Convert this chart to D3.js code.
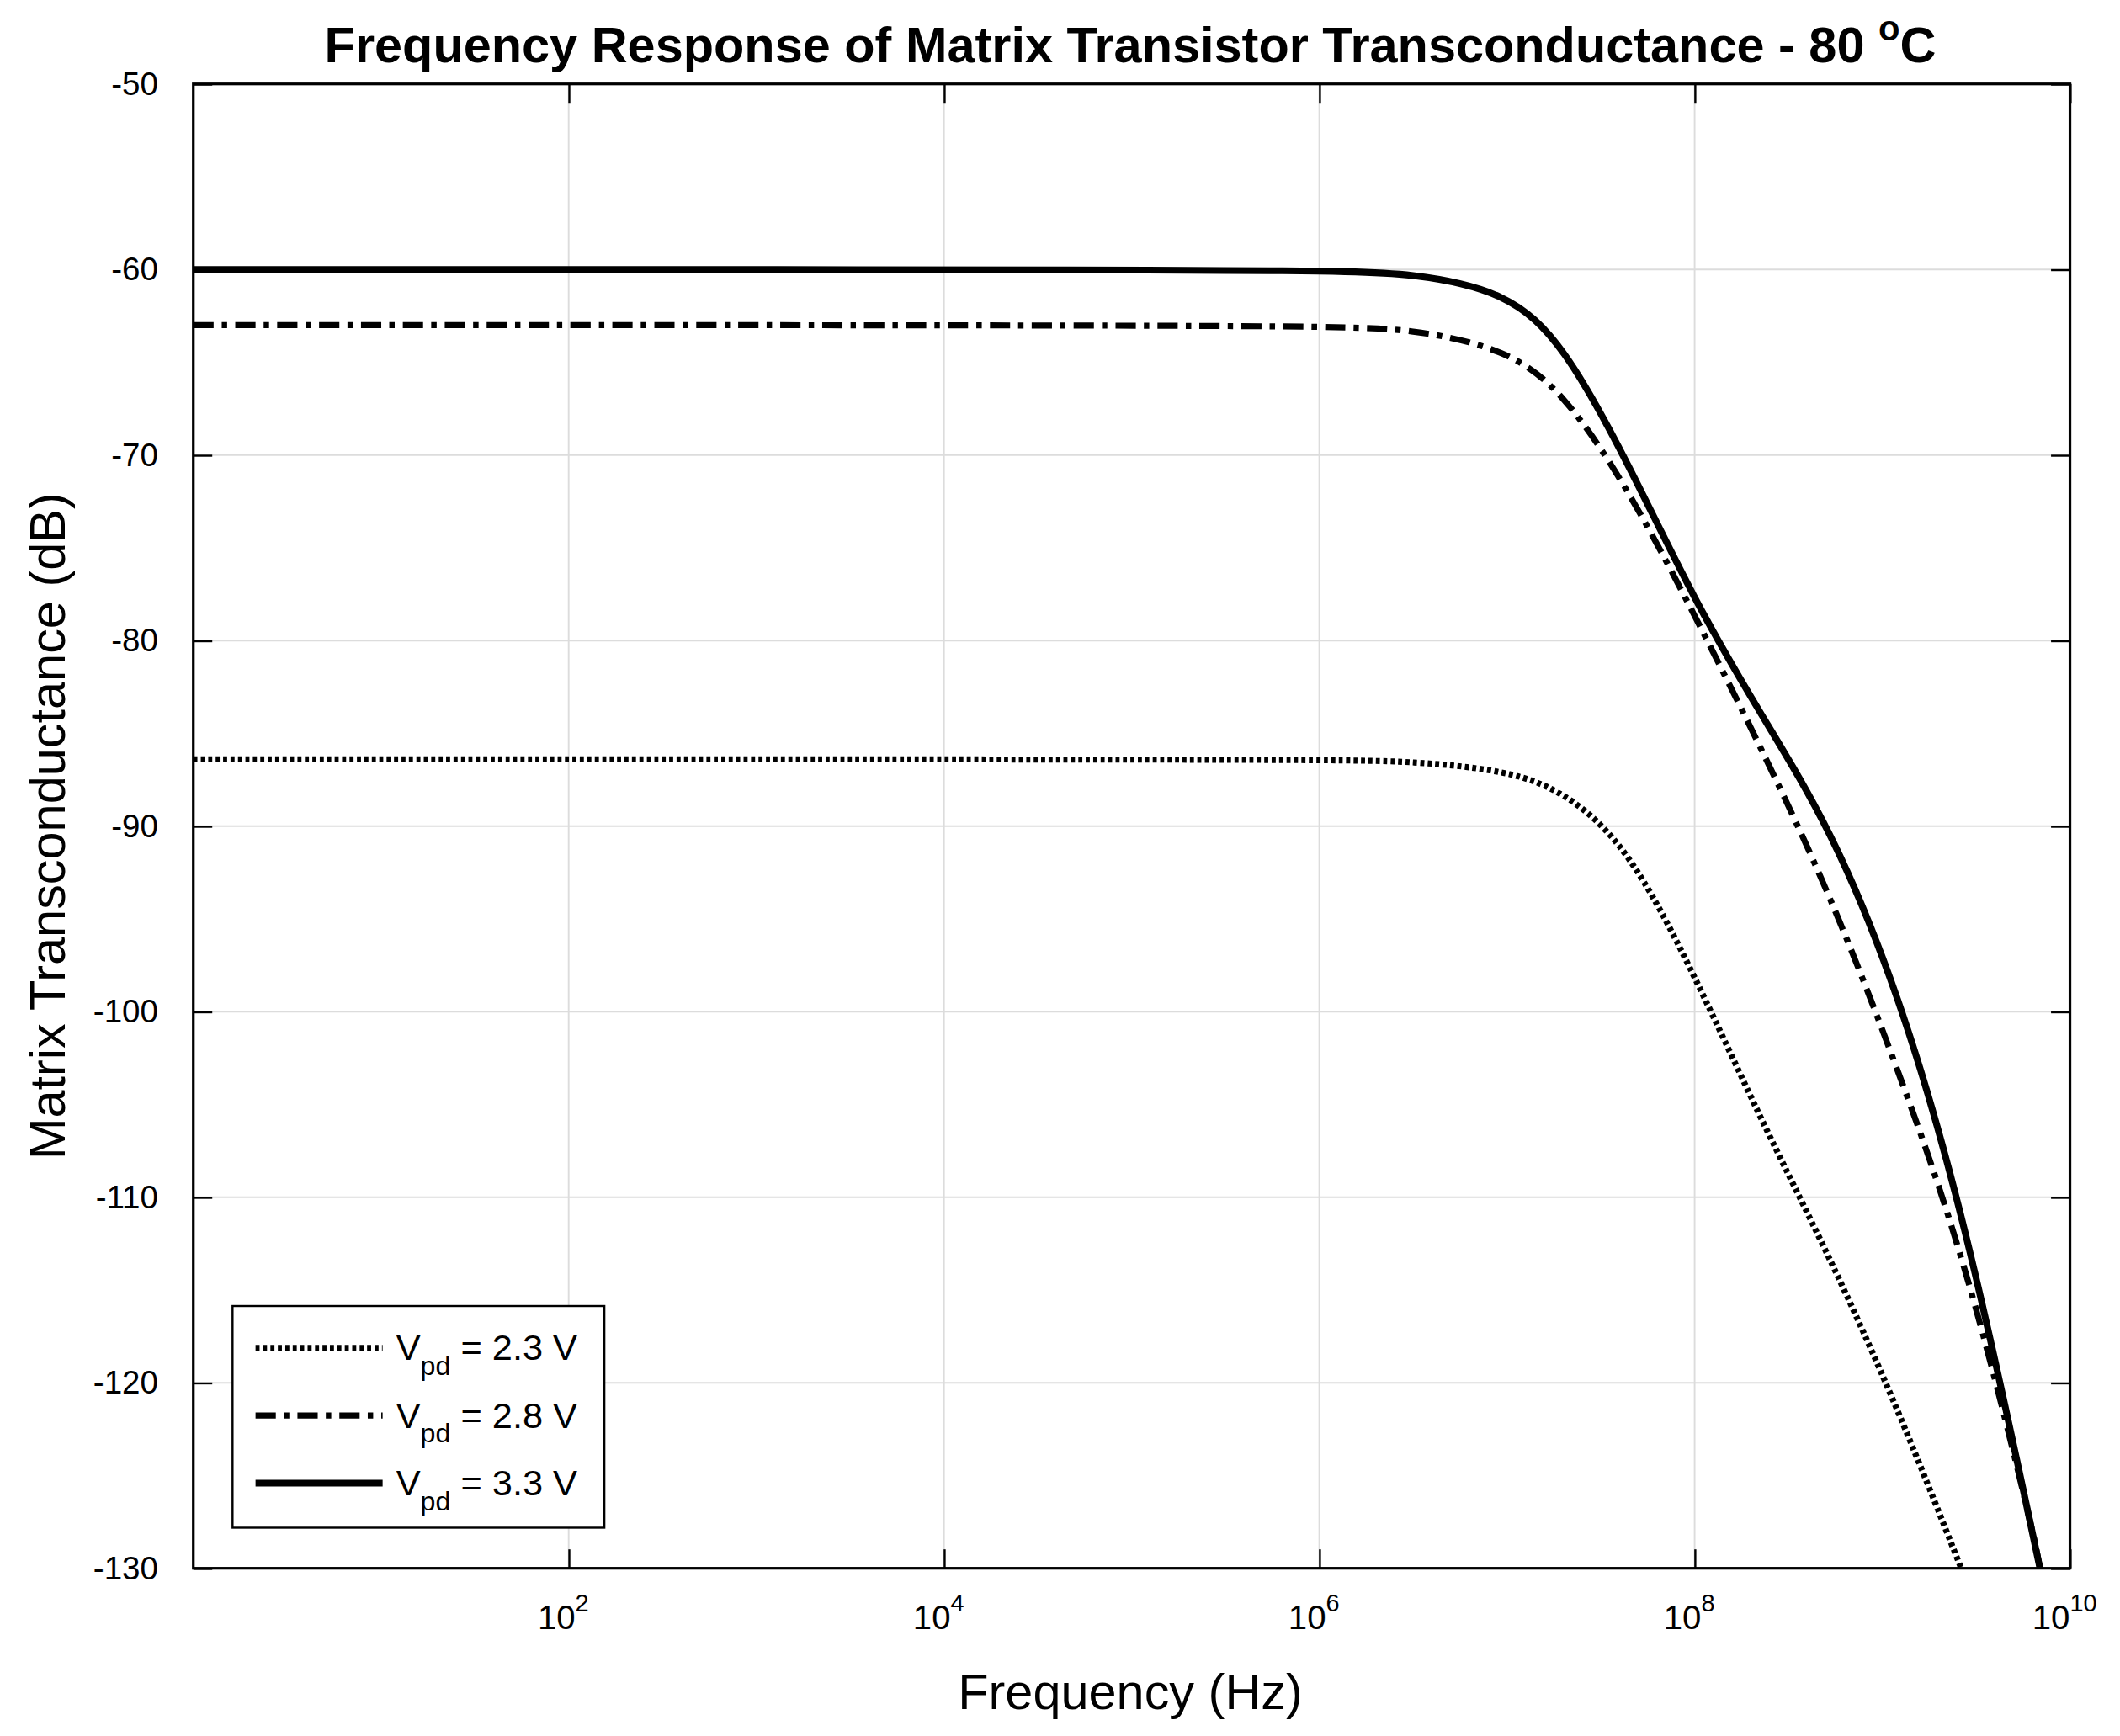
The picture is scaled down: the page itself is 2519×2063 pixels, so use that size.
<!DOCTYPE html>
<html><head><meta charset="utf-8">
<script src="https://cdn.jsdelivr.net/npm/d3@7"></script>
<style>body{margin:0;background:#fff}svg{font-family:"Liberation Sans",Arial,sans-serif}</style>
</head><body><svg id="c" width="2519" height="2063" viewBox="0 0 1568 1284"></svg>
<script>
// log10(frequency) sample points
const logF23 = [0, 6, 6.5, 7.0, 7.3, 7.64, 8.0, 8.36, 8.72, 9.08, 9.42];
const vpd23  = [-86.4, -86.4, -86.5, -87, -88.1, -91, -98, -106, -113.2, -121.3, -130];
const logF28 = [0, 6, 6.5, 7.0, 7.3, 7.64, 8.0, 8.36, 8.72, 9.08, 9.44, 9.8, 9.84];
const vpd28  = [-63, -63, -63.2, -64.3, -66.6, -71.7, -78.6, -85.9, -93.6, -103, -113.2, -127.8, -130];
const logF33 = [0, 6, 6.5, 7.0, 7.3, 7.64, 8.0, 8.36, 8.72, 9.08, 9.44, 9.84];
const vpd33  = [-60, -60, -60.2, -61.2, -64, -70.3, -77.9, -84.1, -90, -98.7, -111, -130];
const series = [
  {label: "2.3 V", x: logF23, y: vpd23, dash: "3,2.5", w: 4.5},
  {label: "2.8 V", x: logF28, y: vpd28, dash: "15,6,4,6", w: 4.5},
  {label: "3.3 V", x: logF33, y: vpd33, dash: null, w: 5}
];
const yTicks = d3.range(-130, -49, 10);
const xTicks = [1e2, 1e4, 1e6, 1e8, 1e10];

const m = {l: 143, r: 1531, t: 62, b: 1160};
const svg = d3.select("#c");
const x = d3.scaleLog().domain([1, 1e10]).range([m.l, m.r]);
const y = d3.scaleLinear().domain([-130, -50]).range([m.b, m.t]);

// grid
svg.append("g").selectAll("line").data(xTicks).join("line")
  .attr("x1", d => x(d)).attr("x2", d => x(d)).attr("y1", m.t).attr("y2", m.b)
  .attr("stroke", "#dcdcdc").attr("stroke-width", 1.2);
svg.append("g").selectAll("line").data(yTicks).join("line")
  .attr("x1", m.l).attr("x2", m.r).attr("y1", d => y(d)).attr("y2", d => y(d))
  .attr("stroke", "#dcdcdc").attr("stroke-width", 1.2);

// curves
const line = d3.line().curve(d3.curveBasis);
svg.append("clipPath").attr("id", "cp").append("rect")
  .attr("x", m.l).attr("y", m.t).attr("width", m.r - m.l).attr("height", m.b - m.t);
series.forEach(s => {
  const pts = s.x.map((lf, i) => [x(Math.pow(10, lf)), y(s.y[i])]);
  svg.append("path").attr("d", line(pts)).attr("fill", "none").attr("stroke", "#000")
    .attr("stroke-width", s.w).attr("stroke-dasharray", s.dash).attr("clip-path", "url(#cp)");
});

// axes
const gx = svg.append("g").attr("transform", `translate(0,${m.b})`)
  .call(d3.axisBottom(x).tickValues(xTicks).tickFormat("").tickSizeInner(-14).tickSizeOuter(0));
const gx2 = svg.append("g").attr("transform", `translate(0,${m.t})`)
  .call(d3.axisTop(x).tickValues(xTicks).tickFormat("").tickSizeInner(-14).tickSizeOuter(0));
const gy = svg.append("g").attr("transform", `translate(${m.l},0)`)
  .call(d3.axisLeft(y).tickValues(yTicks).tickSizeInner(-14).tickSizeOuter(0).tickPadding(26));
const gy2 = svg.append("g").attr("transform", `translate(${m.r},0)`)
  .call(d3.axisRight(y).tickValues(yTicks).tickFormat("").tickSizeInner(-14).tickSizeOuter(0));
[gx, gx2, gy, gy2].forEach(g => { g.selectAll("line").attr("stroke-width", 1.5); g.select(".domain").remove(); });
gy.selectAll("text").attr("font-size", 24).attr("font-family", "Liberation Sans, Arial")
  .text(d => d3.format("d")(d).replace("−", "-"));
svg.append("rect").attr("x", m.l).attr("y", m.t).attr("width", m.r - m.l).attr("height", m.b - m.t)
  .attr("fill", "none").attr("stroke", "#000").attr("stroke-width", 2);

// x tick labels 10^n
xTicks.forEach(v => {
  const t = svg.append("text").attr("x", x(v) - 4).attr("y", m.b + 45).attr("text-anchor", "middle").attr("font-size", 25);
  t.append("tspan").text("10");
  t.append("tspan").attr("dy", -13).attr("font-size", 18).text(Math.round(Math.log10(v)));
});

// labels
svg.append("text").attr("x", 836).attr("y", 46).attr("text-anchor", "middle")
  .attr("font-size", 37).attr("font-weight", "bold")
  .html('Frequency Response of Matrix Transistor Transconductance - 80 <tspan dy="-16" font-size="26">o</tspan><tspan dy="16">C</tspan>');
svg.append("text").attr("x", 836).attr("y", 1264).attr("text-anchor", "middle").attr("font-size", 37).text("Frequency (Hz)");
svg.append("text").attr("transform", `translate(48,${(m.t + m.b) / 2}) rotate(-90)`).attr("text-anchor", "middle")
  .attr("font-size", 37).text("Matrix Transconductance (dB)");

// legend
const lg = svg.append("g").attr("transform", "translate(172,966)");
lg.append("rect").attr("width", 275).attr("height", 164).attr("fill", "#fff").attr("stroke", "#000").attr("stroke-width", 1.5);
series.forEach((s, i) => {
  const yy = 31 + i * 50;
  lg.append("line").attr("x1", 17).attr("x2", 111).attr("y1", yy).attr("y2", yy).attr("stroke", "#000")
    .attr("stroke-width", s.w).attr("stroke-dasharray", s.dash);
  const t = lg.append("text").attr("x", 121).attr("y", yy + 9).attr("font-size", 27);
  t.append("tspan").text("V");
  t.append("tspan").attr("dy", 11).attr("font-size", 20).text("pd");
  t.append("tspan").attr("dy", -11).text(" = " + s.label);
});
</script></body></html>
